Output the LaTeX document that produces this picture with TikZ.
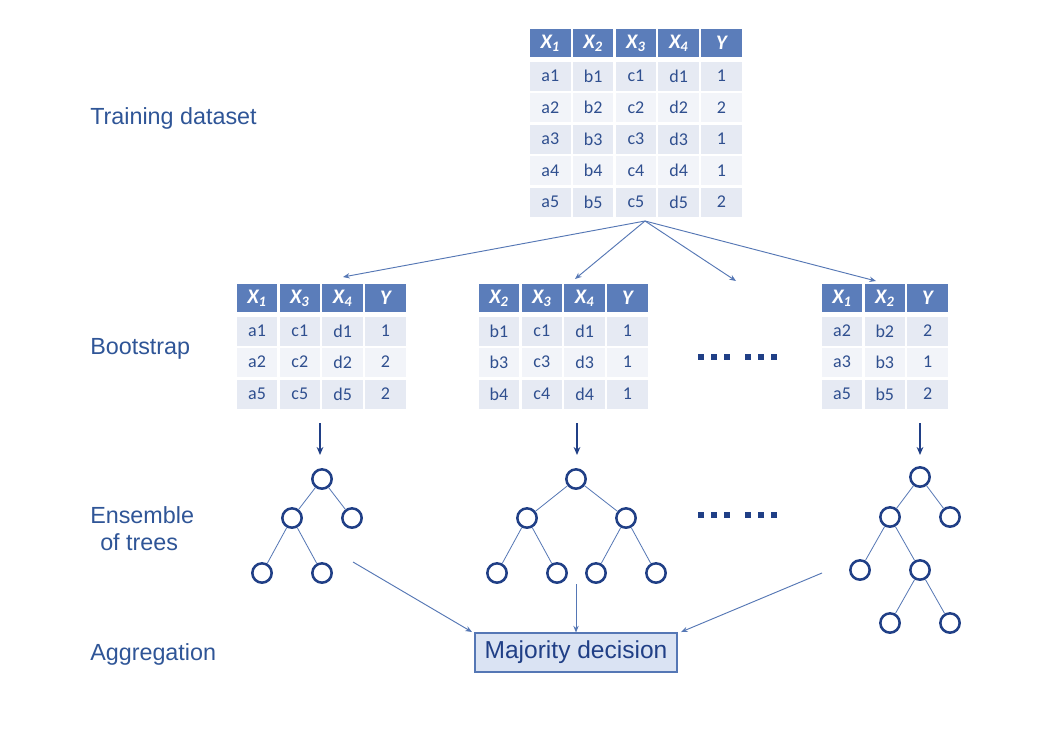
\documentclass[tikz,border=0pt]{standalone}
\usepackage{fontspec}
\setmainfont{Liberation Sans}
\newfontfamily\cellfont{Carlito}
\usetikzlibrary{arrows.meta}
\definecolor{lbl}{HTML}{2F5597}
\definecolor{hdr}{HTML}{5B7DBA}
\definecolor{rowA}{HTML}{E6EAF3}
\definecolor{rowB}{HTML}{F2F4F9}
\definecolor{celltxt}{HTML}{2F4F8F}
\definecolor{conn}{HTML}{5577B5}
\definecolor{darkb}{HTML}{203F86}
\definecolor{boxfill}{HTML}{DAE3F3}
\newcommand\trow[5]{%
  \foreach \t [count=\j] in {#5} \node[#4] (#1-\j) at ({#2+(\j-1)*42.8},#3) {\t};}
\newcommand\Xs[1]{X\textsubscript{#1}}
\tikzset{
  hcell/.style={fill=hdr, text=white, minimum width=30.4pt, minimum height=21pt,
    inner sep=0pt, font=\cellfont\fontsize{15.5}{17}\selectfont\bfseries\itshape},
  rowa/.style={fill=rowA, text=celltxt, minimum width=30.4pt, minimum height=21.75pt,
    inner sep=0pt, font=\cellfont\fontsize{13.5}{15}\selectfont},
  rowb/.style={rowa, fill=rowB},
  lbltext/.style={text=lbl, anchor=base west, inner sep=0pt,
    font=\fontsize{17.5}{21}\selectfont},
  tnode/.style={circle, draw=darkb, line width=1.9pt, minimum size=14.5pt, inner sep=0pt},
  tedge/.style={draw=conn, line width=0.6pt},
  conarrow/.style={draw=conn, line width=0.7pt, -{Stealth[length=5pt,width=4pt]}},
  downarrow/.style={draw=darkb, line width=1.1pt, -{Stealth[length=6pt,width=5pt]}},
  dot/.style={fill=darkb, minimum size=4.8pt, inner sep=0pt},
  decbox/.style={draw=conn, fill=boxfill, line width=0.8pt, minimum width=151.5pt,
    minimum height=29.25pt, text=darkb, font=\fontsize{18.4}{22}\selectfont}
}
\begin{document}
\begin{tikzpicture}[x=0.75pt,y=-0.75pt]
\useasboundingbox (0,0) rectangle (1063,750);
\fill[white] (0,0) rectangle (1063,750);

% labels
\node[lbltext] (l1) at (90,124) {Training dataset};
\node[lbltext] (l2) at (90,354) {Bootstrap};
\node[lbltext] (l3) at (90,523) {Ensemble};
\node[lbltext] (l4) at (100,550) {of trees};
\node[lbltext] (l5) at (90,660) {Aggregation};

% main table
\trow{mh}{550.3}{43}{hcell}{\Xs{1},\Xs{2},\Xs{3},\Xs{4},Y}
\trow{m1}{550.3}{76}{rowa}{a1,b1,c1,d1,1}
\trow{m2}{550.3}{107.5}{rowb}{a2,b2,c2,d2,2}
\trow{m3}{550.3}{139}{rowa}{a3,b3,c3,d3,1}
\trow{m4}{550.3}{170.5}{rowb}{a4,b4,c4,d4,1}
\trow{m5}{550.3}{202}{rowa}{a5,b5,c5,d5,2}

% bootstrap table 1
\trow{ah}{257}{298}{hcell}{\Xs{1},\Xs{3},\Xs{4},Y}
\trow{a1}{257}{331}{rowa}{a1,c1,d1,1}
\trow{a2}{257}{362}{rowb}{a2,c2,d2,2}
\trow{a3}{257}{394}{rowa}{a5,c5,d5,2}

% bootstrap table 2
\trow{bh}{499}{298}{hcell}{\Xs{2},\Xs{3},\Xs{4},Y}
\trow{b1}{499}{331}{rowa}{b1,c1,d1,1}
\trow{b2}{499}{362}{rowb}{b3,c3,d3,1}
\trow{b3}{499}{394}{rowa}{b4,c4,d4,1}

% bootstrap table 3
\trow{ch}{842}{298}{hcell}{\Xs{1},\Xs{2},Y}
\trow{c1}{842}{331}{rowa}{a2,b2,2}
\trow{c2}{842}{362}{rowb}{a3,b3,1}
\trow{c3}{842}{394}{rowa}{a5,b5,2}

% arrows from training set
\coordinate (src) at (645,221);
\coordinate (e1) at (343,277);
\coordinate (e2) at (575,279);
\coordinate (e3) at (736,281);
\coordinate (e4) at (876,281);
\draw[conarrow] (src) -- (e1);
\draw[conarrow] (src) -- (e2);
\draw[conarrow] (src) -- (e3);
\draw[conarrow] (src) -- (e4);

% dots
\foreach \dx [count=\k] in {701,714,727,748,761,774} {
  \node[dot] (da\k) at (\dx,357) {};
  \node[dot] (db\k) at (\dx,515) {};
}

% down arrows
\coordinate (v1s) at (320,423); \coordinate (v1e) at (320,455);
\coordinate (v2s) at (577,423); \coordinate (v2e) at (577,455);
\coordinate (v3s) at (920,423); \coordinate (v3e) at (920,455);
\draw[downarrow] (v1s) -- (v1e);
\draw[downarrow] (v2s) -- (v2e);
\draw[downarrow] (v3s) -- (v3e);

% tree 1
\node[tnode] (p0) at (322,479) {};
\node[tnode] (p1) at (292,518) {};
\node[tnode] (p2) at (352,518) {};
\node[tnode] (p3) at (262,573) {};
\node[tnode] (p4) at (322,573) {};
\draw[tedge] (p0) -- (p1); \draw[tedge] (p0) -- (p2);
\draw[tedge] (p1) -- (p3); \draw[tedge] (p1) -- (p4);

% tree 2
\node[tnode] (q0) at (576,479) {};
\node[tnode] (q1) at (527,518) {};
\node[tnode] (q2) at (626,518) {};
\node[tnode] (q3) at (497,573) {};
\node[tnode] (q4) at (557,573) {};
\node[tnode] (q5) at (596,573) {};
\node[tnode] (q6) at (656,573) {};
\draw[tedge] (q0) -- (q1); \draw[tedge] (q0) -- (q2);
\draw[tedge] (q1) -- (q3); \draw[tedge] (q1) -- (q4);
\draw[tedge] (q2) -- (q5); \draw[tedge] (q2) -- (q6);

% tree 3
\node[tnode] (r0) at (920,477) {};
\node[tnode] (r1) at (890,517) {};
\node[tnode] (r2) at (950,517) {};
\node[tnode] (r3) at (860,570) {};
\node[tnode] (r4) at (920,570) {};
\node[tnode] (r5) at (890,623) {};
\node[tnode] (r6) at (950,623) {};
\draw[tedge] (r0) -- (r1); \draw[tedge] (r0) -- (r2);
\draw[tedge] (r1) -- (r3); \draw[tedge] (r1) -- (r4);
\draw[tedge] (r4) -- (r5); \draw[tedge] (r4) -- (r6);

% majority decision
\node[decbox] (box) at (576,652.5) {Majority decision};
\coordinate (g1s) at (353,562); \coordinate (g1e) at (472,632);
\coordinate (g2s) at (576,584);
\coordinate (g3s) at (822,573); \coordinate (g3e) at (681,632);
\draw[conarrow] (g1s) -- (g1e);
\draw[conarrow] (g2s) -- (box.north);
\draw[conarrow] (g3s) -- (g3e);
\end{tikzpicture}
\end{document}
